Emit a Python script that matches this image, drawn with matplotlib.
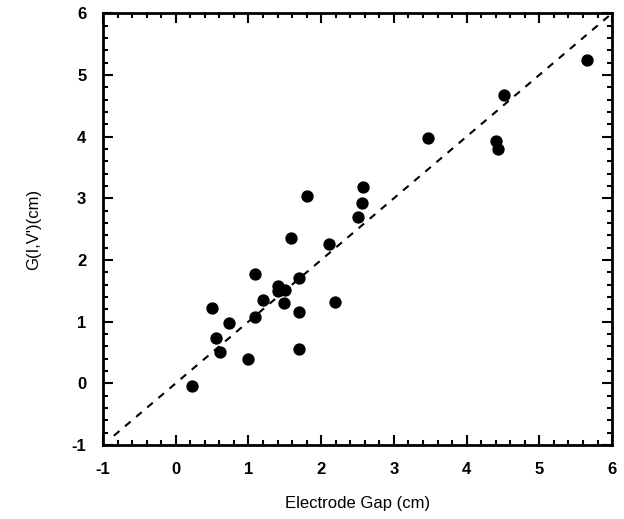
import matplotlib
matplotlib.use("Agg")
from matplotlib import pyplot as plt
from matplotlib.ticker import MultipleLocator

# electrode gap (cm) vs G(I,V') (cm)
gap = [0.22, 0.50, 0.55, 0.61, 0.73, 1.00, 1.09, 1.09, 1.20, 1.41, 1.41, 1.50,
       1.49, 1.59, 1.70, 1.70, 1.70, 1.80, 2.11, 2.19, 2.50, 2.56, 2.58, 3.47,
       4.41, 4.43, 4.51, 5.66]
g_iv = [-0.04, 1.22, 0.73, 0.51, 0.97, 0.40, 1.07, 1.77, 1.35, 1.57, 1.49, 1.52,
        1.30, 2.36, 1.71, 1.16, 0.55, 3.03, 2.26, 1.32, 2.69, 2.93, 3.18, 3.98,
        3.93, 3.80, 4.68, 5.24]
line_x = [-0.85, 5.98]

plt.rcParams['font.family'] = ['Liberation Sans', 'DejaVu Sans']
plt.rcParams['axes.unicode_minus'] = False

fig = plt.figure(figsize=(6.24, 5.19), dpi=100)
ax = fig.add_axes([0.165, 0.1426, 0.816, 0.832])

ax.plot(line_x, line_x, color='black', linestyle=(0, (3.5, 3.5)), linewidth=1.5)
ax.scatter(gap, g_iv, s=62, color='black', zorder=3)

ax.set_xlim(-1, 6)
ax.set_ylim(-1, 6)
ax.xaxis.set_major_locator(MultipleLocator(1))
ax.yaxis.set_major_locator(MultipleLocator(1))
ax.xaxis.set_minor_locator(MultipleLocator(0.2))
ax.yaxis.set_minor_locator(MultipleLocator(0.2))
ax.tick_params(which='both', direction='in', top=True, right=True, width=1.5)
ax.tick_params(which='major', length=7, labelsize=12, pad=12)
ax.tick_params(which='minor', length=3.5)
for lab in ax.get_xticklabels() + ax.get_yticklabels():
    lab.set_fontweight('bold')
for sp in ax.spines.values():
    sp.set_linewidth(2)

ax.set_xlabel("Electrode Gap (cm)", fontsize=12, labelpad=14)
ax.set_ylabel("G(I,V')(cm)", fontsize=12, labelpad=22)

fig.savefig("out.png", dpi=100)
